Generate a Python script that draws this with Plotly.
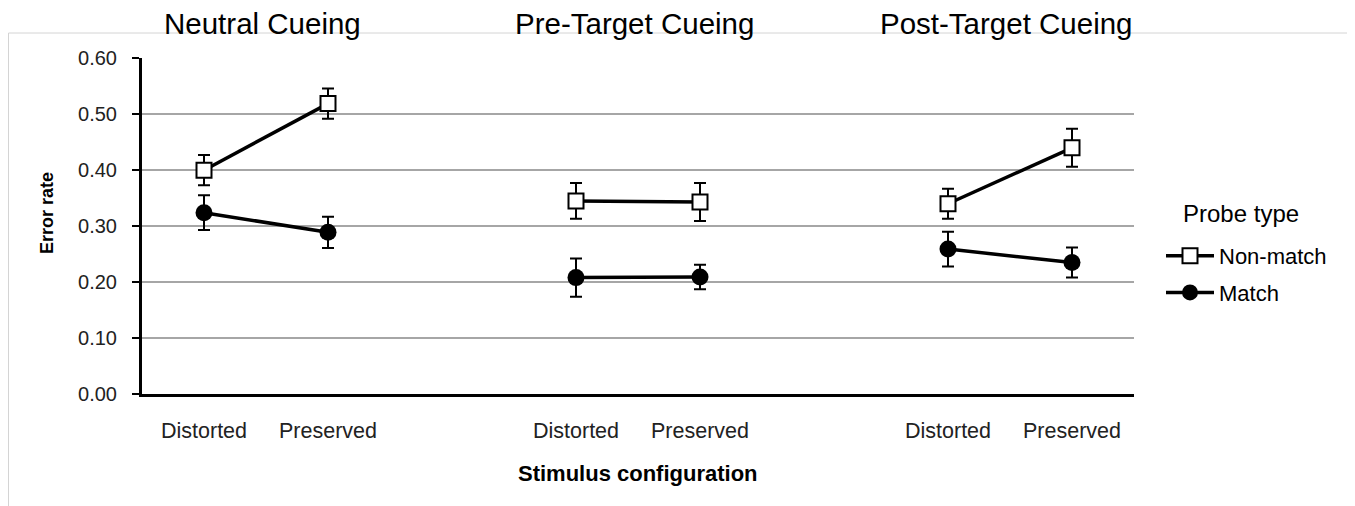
import plotly.graph_objects as go

conditions = ["Neutral Cueing", "Pre-Target Cueing", "Post-Target Cueing"]
configs = ["Distorted", "Preserved"]
positions = [0, 1, 3, 4, 6, 7]
nonmatch = [0.400, 0.519, 0.345, 0.343, 0.340, 0.440]
nonmatch_err = [0.027, 0.027, 0.032, 0.034, 0.027, 0.034]
match = [0.324, 0.289, 0.208, 0.209, 0.259, 0.235]
match_err = [0.031, 0.028, 0.034, 0.022, 0.031, 0.027]
y_ticks = [0.0, 0.1, 0.2, 0.3, 0.4, 0.5, 0.6]


def with_gaps(vals):
    out = []
    for i, v in enumerate(vals):
        out.append(v)
        if i in (1, 3):
            out.append(None)
    return out


xs = with_gaps(positions)
xs = [xs[i] if xs[i] is not None else (xs[i - 1] + 1) for i in range(len(xs))]

FONT = "Liberation Sans, Arial, sans-serif"

fig = go.Figure()
fig.add_trace(go.Scatter(
    x=xs, y=with_gaps(nonmatch), name="Non-match", mode="lines+markers",
    line=dict(color="black", width=3.5),
    marker=dict(symbol="square", size=15, color="white", line=dict(color="black", width=2)),
    error_y=dict(type="data", array=with_gaps(nonmatch_err), color="black", thickness=2, width=6),
    connectgaps=False, legendgroup="a",
))
fig.add_trace(go.Scatter(
    x=xs, y=with_gaps(match), name="Match", mode="lines+markers",
    line=dict(color="black", width=3.5),
    marker=dict(symbol="circle", size=17, color="black"),
    error_y=dict(type="data", array=with_gaps(match_err), color="black", thickness=2, width=6),
    connectgaps=False, legendgroup="b",
))

# Plot area: 992 x 336 px; page offset handled via margins.
for i, c in enumerate(conditions):
    fig.add_annotation(x=positions[2 * i] + 0.5, y=(394 - 24) / 336, xref="x", yref="paper",
                       text=c, showarrow=False, font=dict(family=FONT, size=29.5, color="black"),
                       xanchor="center", yanchor="middle", xshift=-4)

fig.add_annotation(x=3.5, y=(394 - 473) / 336, xref="x", yref="paper",
                   text="<b>Stimulus configuration</b>", showarrow=False,
                   font=dict(family=FONT, size=22, color="black"), xanchor="center", yanchor="middle")
fig.add_annotation(x=(47 - 142) / 992, y=(394 - 213) / 336, xref="paper", yref="paper",
                   text="<b>Error rate</b>", showarrow=False, textangle=-90,
                   font=dict(family=FONT, size=18, color="black"), xanchor="center", yanchor="middle")
fig.add_annotation(x=(1181 - 142) / 992, y=(394 - 213) / 336, xref="paper", yref="paper",
                   text="Probe type", showarrow=False,
                   font=dict(family=FONT, size=24, color="black"), xanchor="left", yanchor="middle")

# outer frame (bottom edge lies outside the picture)
fig.add_shape(type="rect", xref="paper", yref="paper",
              x0=(8.5 - 142) / 992, x1=(1349 - 142) / 992,
              y0=(394 - 530) / 336, y1=(394 - 33) / 336,
              line=dict(color="#d4d4d4", width=1), layer="below")

fig.update_layout(
    width=1347, height=498,
    margin=dict(l=134, r=221, t=50, b=112),
    paper_bgcolor="white", plot_bgcolor="white",
    showlegend=True,
    legend=dict(x=(1161 - 142) / 992, y=(394 - 235) / 336, xanchor="left", yanchor="top",
                font=dict(family=FONT, size=22, color="black"),
                tracegroupgap=5, itemwidth=48, bgcolor="rgba(0,0,0,0)"),
    font=dict(family=FONT, color="black"),
)
fig.update_xaxes(
    range=[-0.5, 7.5], tickvals=positions, ticktext=configs * 3,
    showgrid=False, zeroline=False, showline=True, linecolor="black", linewidth=3,
    ticks="", tickfont=dict(family=FONT, size=21.5, color="#222"), ticklabelstandoff=15,
)
fig.update_yaxes(
    range=[0, 0.6005], tickvals=y_ticks, ticktext=["%.2f" % v for v in y_ticks],
    showgrid=True, gridcolor="#a6a6a6", gridwidth=1.5, zeroline=False,
    showline=True, linecolor="black", linewidth=3,
    ticks="outside", ticklen=7, tickwidth=2, tickcolor="black",
    tickfont=dict(family=FONT, size=20, color="#222"), ticklabelstandoff=11,
)

fig.write_html("out.html")
